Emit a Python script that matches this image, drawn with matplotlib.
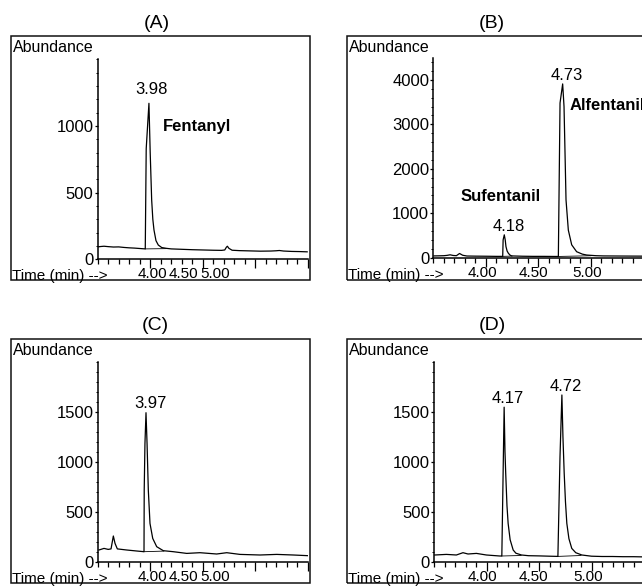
import matplotlib
matplotlib.use('Agg')
import matplotlib.pyplot as plt
from matplotlib.patches import Rectangle
from matplotlib.ticker import MultipleLocator, FixedLocator
import matplotlib.transforms as mtransforms

plt.rcParams['font.family'] = ['Liberation Sans', 'DejaVu Sans']

W, H = 642, 588

# ---- chromatogram traces (time in min, abundance) ----
a_time = [3.50, 3.53, 3.56, 3.60, 3.65, 3.70, 3.75, 3.80, 3.85, 3.90, 3.953,
          3.962, 3.988, 4.000, 4.014, 4.025, 4.036, 4.055, 4.077, 4.110, 4.156,
          4.20, 4.30, 4.40, 4.50, 4.60, 4.68, 4.71, 4.725, 4.735, 4.75, 4.78,
          4.85, 4.95, 5.05, 5.15, 5.20, 5.23, 5.27, 5.35, 5.42, 5.495]
a_abund = [93, 96, 98, 95, 92, 93, 89, 86, 84, 81, 78,
           830, 1170, 800, 445, 300, 220, 140, 107, 88, 82,
           78, 75, 72, 70, 68, 67, 70, 90, 98, 82, 68,
           65, 63, 61, 62, 64, 66, 62, 59, 58, 56]

b_time = [3.505, 3.55, 3.60, 3.63, 3.66, 3.69, 3.72, 3.75, 3.78, 3.82, 3.90,
          4.00, 4.10, 4.161, 4.165, 4.176, 4.185, 4.192, 4.203, 4.215, 4.23,
          4.246, 4.35, 4.45, 4.55, 4.65, 4.691, 4.707, 4.732, 4.745, 4.755,
          4.764, 4.786, 4.818, 4.865, 4.92, 4.961, 5.05, 5.12, 5.25, 5.40, 5.50]
b_abund = [40, 42, 45, 52, 65, 50, 45, 95, 55, 38, 35,
           33, 30, 30, 400, 515, 400, 250, 150, 100, 60,
           40, 33, 30, 30, 28, 28, 3480, 3910, 3400, 2300,
           1300, 620, 290, 135, 80, 60, 45, 40, 38, 36, 35]

c_time = [3.512, 3.56, 3.60, 3.627, 3.649, 3.665, 3.687, 3.776, 3.871, 3.941,
          3.943, 3.950, 3.960, 3.970, 3.982, 3.998, 4.024, 4.062, 4.125, 4.220,
          4.348, 4.474, 4.633, 4.729, 4.855, 5.046, 5.205, 5.363, 5.506]
c_abund = [117, 133, 123, 128, 257, 183, 128, 117, 107, 100,
           720, 1180, 1490, 1183, 717, 383, 233, 150, 110, 100,
           83, 90, 77, 90, 73, 67, 73, 67, 60]

d_time = [3.507, 3.618, 3.713, 3.776, 3.824, 3.904, 3.999, 4.126, 4.146,
          4.168, 4.176, 4.183, 4.195, 4.206, 4.225, 4.254, 4.28, 4.333, 4.40,
          4.50, 4.60, 4.680, 4.700, 4.718, 4.728, 4.740, 4.752, 4.765, 4.785,
          4.812, 4.85, 4.908, 5.00, 5.10, 5.20, 5.30, 5.40, 5.50]
d_abund = [67, 73, 67, 90, 77, 83, 67, 57, 57,
           1545, 1100, 883, 560, 383, 220, 117, 85, 67, 60,
           58, 55, 53, 1050, 1667, 1250, 883, 600, 383, 230,
           133, 90, 67, 55, 52, 52, 50, 50, 48]

# integration baselines drawn under the peaks: (t0, y0, t1, y1)
a_base = [(3.953, 78, 4.15, 80)]
b_base = [(4.161, 30, 4.25, 36), (4.691, 28, 5.00, 44)]
c_base = [(3.941, 100, 4.13, 106)]
d_base = [(4.146, 57, 4.33, 62), (4.680, 53, 4.90, 62)]

# peak annotations: (text, time, abundance, bold, align)
a_notes = [('3.98', 4.014, 1270, False, 'center'), ('Fentanyl', 4.12, 995, True, 'left')]
b_notes = [('4.73', 4.770, 4092, False, 'center'), ('Alfentanil', 4.795, 3417, True, 'left'),
           ('Sufentanil', 4.142, 1374, True, 'center'), ('4.18', 4.214, 698, False, 'center')]
c_notes = [('3.97', 4.005, 1584, False, 'center')]
d_notes = [('4.17', 4.199, 1634, False, 'center'), ('4.72', 4.754, 1757, False, 'center')]

x_labels = ['4.00', '4.50', '5.00']
# where the time labels sit in the picture (left column labels are squeezed)
x_label_pos_left = [4.017, 4.312, 4.617]
x_label_pos_right = [3.964, 4.450, 4.964]

a_yticks = [0, 500, 1000]
b_yticks = [0, 1000, 2000, 3000, 4000]
cd_yticks = [0, 500, 1000, 1500]

panels = [
    # title, box (left, top px), axis (left, zero px), ymax, yticks, yminor, data
    dict(title='(A)', tpos=(157, 23), box=(11, 36), ax=(97.7, 259.3), ymax=1500,
         yt=a_yticks, ym=100, t=a_time, y=a_abund, base=a_base, notes=a_notes,
         xl=x_label_pos_left),
    dict(title='(B)', tpos=(492, 24), box=(347, 36), ax=(433.3, 257.7), ymax=4500,
         yt=b_yticks, ym=200, t=b_time, y=b_abund, base=b_base, notes=b_notes,
         xl=x_label_pos_right),
    dict(title='(C)', tpos=(155, 326), box=(11, 339), ax=(97.7, 561.7), ymax=2000,
         yt=cd_yticks, ym=100, t=c_time, y=c_abund, base=c_base, notes=c_notes,
         xl=x_label_pos_left),
    dict(title='(D)', tpos=(492, 326), box=(347, 339), ax=(434.0, 561.7), ymax=2000,
         yt=cd_yticks, ym=100, t=d_time, y=d_abund, base=d_base, notes=d_notes,
         xl=x_label_pos_right),
]

fig = plt.figure(figsize=(W / 100, H / 100), dpi=100)


def fx(px):
    return px / W


def fy(py):
    return 1 - py / H


for p in panels:
    bl, bt = p['box']
    # outer frame of each printout
    fig.add_artist(Rectangle((fx(bl), fy(bt + 244)), 299 / W, 244 / H,
                             transform=fig.transFigure, fill=False,
                             lw=1.1, ec='#111111'))
    fig.text(fx(p['tpos'][0]), fy(p['tpos'][1]), p['title'], fontsize=14,
             ha='center', va='center')
    fig.text(fx(bl + 1.5), fy(bt + 11.5), 'Abundance', fontsize=11.5,
             ha='left', va='center')

    axl, ax0 = p['ax']
    ax = fig.add_axes([fx(axl), fy(ax0), 210 / W, 200 / H])
    ax.set_facecolor('none')
    ax.plot(p['t'], p['y'], color='black', lw=0.9)
    for t0, y0, t1, y1 in p['base']:
        ax.plot([t0, t1], [y0, y1], color='black', lw=0.6)
    for txt, tx, ty, bold, ha in p['notes']:
        ax.text(tx, ty, txt, fontsize=12, ha=ha, va='center',
                fontweight='bold' if bold else 'normal', clip_on=False)

    ax.set_xlim(3.5, 5.5)
    ax.set_ylim(0, p['ymax'])
    for s in ['top', 'right']:
        ax.spines[s].set_visible(False)
    for s in ['left', 'bottom']:
        ax.spines[s].set_linewidth(1.1)

    ax.xaxis.set_major_locator(FixedLocator([4.0, 4.5, 5.0, 5.5]))
    ax.xaxis.set_minor_locator(MultipleLocator(0.1))
    ax.tick_params(axis='x', which='major', length=6.5, width=0.9,
                   labelbottom=False)
    ax.tick_params(axis='x', which='minor', length=3.6, width=0.9)
    ax.set_yticks(p['yt'])
    ax.yaxis.set_minor_locator(MultipleLocator(p['ym']))
    ax.tick_params(axis='y', which='major', length=2.5, width=0.9,
                   labelsize=12, pad=0.5)
    ax.tick_params(axis='y', which='minor', length=1.6, width=0.7)

    trans = mtransforms.blended_transform_factory(ax.transData, fig.transFigure)
    for lab, pos in zip(x_labels, p['xl']):
        ax.text(pos, fy(ax0 + 15), lab, fontsize=11, ha='center', va='center',
                transform=trans)
    fig.text(fx(bl + 1.5), fy(ax0 + 17), 'Time (min) -->', fontsize=11,
             ha='left', va='center')

fig.savefig('out.png', dpi=100)
